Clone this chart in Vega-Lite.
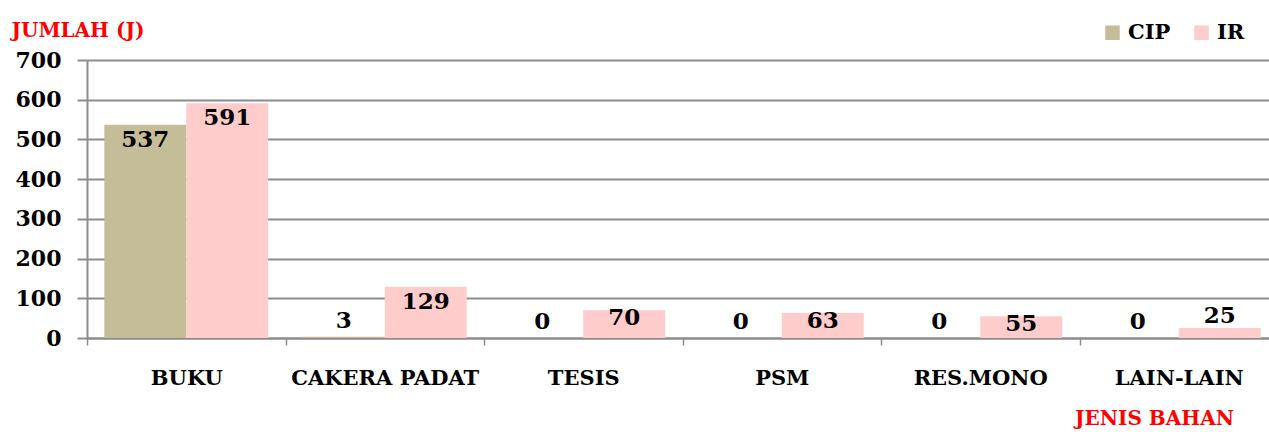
{
  "$schema": "https://vega.github.io/schema/vega-lite/v6.json",
  "width": 1191,
  "height": 278,
  "autosize": {"type": "none"},
  "padding": {"left": 87, "top": 60, "right": 0, "bottom": 94},
  "background": "white",
  "config": {"view": {"stroke": null}, "font": "DejaVu Serif"},
  "data": {
    "values": [
      {"bahan": "BUKU", "jenis": "CIP", "jumlah": 537},
      {"bahan": "BUKU", "jenis": "IR", "jumlah": 591},
      {"bahan": "CAKERA PADAT", "jenis": "CIP", "jumlah": 3},
      {"bahan": "CAKERA PADAT", "jenis": "IR", "jumlah": 129},
      {"bahan": "TESIS", "jenis": "CIP", "jumlah": 0},
      {"bahan": "TESIS", "jenis": "IR", "jumlah": 70},
      {"bahan": "PSM", "jenis": "CIP", "jumlah": 0},
      {"bahan": "PSM", "jenis": "IR", "jumlah": 63},
      {"bahan": "RES.MONO", "jenis": "CIP", "jumlah": 0},
      {"bahan": "RES.MONO", "jenis": "IR", "jumlah": 55},
      {"bahan": "LAIN-LAIN", "jenis": "CIP", "jumlah": 0},
      {"bahan": "LAIN-LAIN", "jenis": "IR", "jumlah": 25}
    ]
  },
  "encoding": {
    "x": {
      "field": "bahan",
      "type": "nominal",
      "sort": null,
      "scale": {"paddingInner": 0, "paddingOuter": 0},
      "axis": {
        "title": "JENIS BAHAN",
        "titleColor": "#FF0000",
        "titleFont": "DejaVu Serif",
        "titleFontSize": 20,
        "titleFontWeight": "bold",
        "titleAnchor": null,
        "titleAlign": "center",
        "titleBaseline": "middle",
        "titleX": 1067,
        "titleY": 80,
        "labelAngle": 0,
        "labelFont": "DejaVu Serif",
        "labelFontSize": 21,
        "labelFontWeight": "bold",
        "labelColor": "black",
        "labelBaseline": "middle",
        "labelPadding": 33,
        "labelLimit": 0,
        "tickBand": "extent",
        "tickSize": 7,
        "tickColor": "#8c8c8c",
        "tickWidth": 1.5,
        "domainColor": "#8c8c8c",
        "domainWidth": 2,
        "grid": false
      }
    },
    "xOffset": {"field": "jenis", "sort": ["CIP", "IR"], "scale": {"paddingInner": 0, "paddingOuter": 0.211}},
    "y": {
      "field": "jumlah",
      "type": "quantitative",
      "scale": {"domain": [0, 700], "nice": false},
      "axis": {
        "values": [0, 100, 200, 300, 400, 500, 600, 700],
        "title": "JUMLAH (J)",
        "titleColor": "#FF0000",
        "titleFont": "DejaVu Serif",
        "titleFontSize": 20,
        "titleFontWeight": "bold",
        "titleAngle": 0,
        "titleAnchor": null,
        "titleAlign": "left",
        "titleBaseline": "middle",
        "titleX": -76,
        "titleY": -30,
        "labelFont": "DejaVu Serif",
        "labelFontSize": 22,
        "labelFontWeight": "bold",
        "labelColor": "black",
        "labelPadding": 16,
        "tickSize": 10,
        "tickColor": "#8c8c8c",
        "tickWidth": 2,
        "grid": true,
        "gridColor": "#8c8c8c",
        "gridWidth": 2,
        "domainColor": "#8c8c8c",
        "domainWidth": 2
      }
    }
  },
  "layer": [
    {
      "mark": {"type": "bar"},
      "encoding": {
        "color": {
          "field": "jenis",
          "type": "nominal",
          "sort": ["CIP", "IR"],
          "scale": {"domain": ["CIP", "IR"], "range": ["#C4BD97", "#FFCCCC"]},
          "legend": {
            "orient": "none",
            "legendX": 1015,
            "legendY": -38,
            "direction": "horizontal",
            "title": null,
            "symbolType": "square",
            "symbolSize": 210,
            "symbolStrokeWidth": 0,
            "labelFont": "DejaVu Serif",
            "labelFontSize": 21,
            "labelFontWeight": "bold",
            "labelColor": "black",
            "columnPadding": 20,
            "labelOffset": 5
          }
        }
      }
    },
    {
      "transform": [{"filter": "datum.jumlah >= 100"}],
      "mark": {"type": "text", "baseline": "middle", "dy": 15, "font": "DejaVu Serif", "fontSize": 23, "fontWeight": "bold", "color": "black"},
      "encoding": {"text": {"field": "jumlah", "type": "quantitative"}}
    },
    {
      "transform": [{"filter": "datum.jumlah >= 40 && datum.jumlah < 100"}],
      "mark": {"type": "text", "baseline": "middle", "dy": 8, "font": "DejaVu Serif", "fontSize": 23, "fontWeight": "bold", "color": "black"},
      "encoding": {"text": {"field": "jumlah", "type": "quantitative"}}
    },
    {
      "transform": [{"filter": "datum.jumlah >= 10 && datum.jumlah < 40"}],
      "mark": {"type": "text", "baseline": "middle", "dy": -12, "font": "DejaVu Serif", "fontSize": 23, "fontWeight": "bold", "color": "black"},
      "encoding": {"text": {"field": "jumlah", "type": "quantitative"}}
    },
    {
      "transform": [{"filter": "datum.jumlah < 10"}],
      "mark": {"type": "text", "baseline": "middle", "dy": -16, "font": "DejaVu Serif", "fontSize": 23, "fontWeight": "bold", "color": "black"},
      "encoding": {"text": {"field": "jumlah", "type": "quantitative"}}
    }
  ]
}
